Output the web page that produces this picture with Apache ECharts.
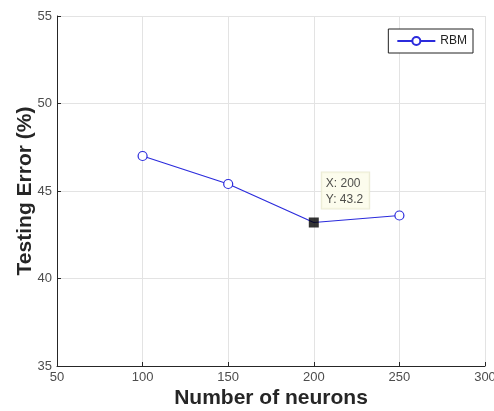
<!DOCTYPE html>
<html>
<head>
<meta charset="utf-8">
<script src="https://cdn.jsdelivr.net/npm/echarts@6/dist/echarts.min.js"></script>
<style>html,body{margin:0;padding:0;background:#fff}#c{width:494px;height:411px}</style>
</head>
<body>
<div id="c"></div>
<script>
const neurons = [100, 150, 200, 250];
const rbmError = [47.0, 45.4, 43.2, 43.6];
const tipPoint = [200, 43.2];
const xTicks = [50, 100, 150, 200, 250, 300];
const yTicks = [35, 40, 45, 50, 55];

const chart = echarts.init(document.getElementById('c'), null, {renderer: 'canvas'});
const font = 'Arial, "Liberation Sans", Helvetica, sans-serif';
chart.setOption({
  animation: false,
  backgroundColor: '#fff',
  grid: {left: 57, right: 9, top: 16, bottom: 45, containLabel: false, outerBoundsMode: 'none'},
  legend: {
    data: ['RBM'],
    right: 21, top: 29,
    orient: 'vertical',
    borderColor: '#222', borderWidth: 1, borderRadius: 0,
    padding: [6, 6, 6, 8],
    itemWidth: 38, itemHeight: 10,
    itemGap: 4,
    textStyle: {fontFamily: font, fontSize: 12, color: '#222'},
    backgroundColor: '#fff'
  },
  xAxis: {
    type: 'value',
    min: xTicks[0], max: xTicks[xTicks.length - 1], interval: 50,
    name: 'Number of neurons',
    nameLocation: 'middle', nameGap: 22,
    nameMoveOverlap: false,
    nameTextStyle: {fontFamily: font, fontSize: 21, fontWeight: 'bold', color: '#262626'},
    axisLine: {show: true, onZero: false, lineStyle: {color: '#262626', width: 1}},
    axisTick: {show: true, inside: true, length: 4, lineStyle: {color: '#262626'}},
    axisLabel: {fontFamily: font, fontSize: 13, color: '#4d4d4d', margin: 5},
    splitLine: {show: true, lineStyle: {color: '#e3e3e3', width: 1}}
  },
  yAxis: {
    type: 'value',
    min: yTicks[0], max: yTicks[yTicks.length - 1], interval: 5,
    name: 'Testing Error (%)',
    nameLocation: 'middle', nameGap: 21,
    nameMoveOverlap: false,
    nameTextStyle: {fontFamily: font, fontSize: 21, fontWeight: 'bold', color: '#262626'},
    axisLine: {show: true, onZero: false, lineStyle: {color: '#262626', width: 1}},
    axisTick: {show: true, inside: true, length: 4, lineStyle: {color: '#262626'}},
    axisLabel: {fontFamily: font, fontSize: 13, color: '#4d4d4d', margin: 5},
    splitLine: {show: true, lineStyle: {color: '#e3e3e3', width: 1}}
  },
  series: [
    {
      name: 'RBM',
      type: 'line',
      data: neurons.map((n, i) => {
        const item = {value: [n, rbmError[i]]};
        if (n === tipPoint[0]) item.symbol = 'none';
        return item;
      }),
      symbol: 'circle',
      symbolSize: 9,
      showAllSymbol: true,
      lineStyle: {color: '#2b2bdc', width: 1.2},
      itemStyle: {color: '#fff', borderColor: '#2b2bdc', borderWidth: 1.2},
      z: 3
    },
    {
      name: 'tip',
      type: 'scatter',
      data: [tipPoint],
      symbol: 'rect',
      symbolSize: 10,
      itemStyle: {color: '#000'},
      z: 5,
      label: {
        show: true,
        position: [13, -45],
        align: 'left',
        verticalAlign: 'top',
        formatter: p => 'X: ' + p.value[0] + '\nY: ' + p.value[1],
        fontFamily: font, fontSize: 12, color: '#222', lineHeight: 16,
        backgroundColor: '#fbfbe8',
        borderColor: '#e6e6cc', borderWidth: 1,
        padding: [3, 6, 1, 4]
      }
    }
  ]
});
</script>
</body>
</html>
